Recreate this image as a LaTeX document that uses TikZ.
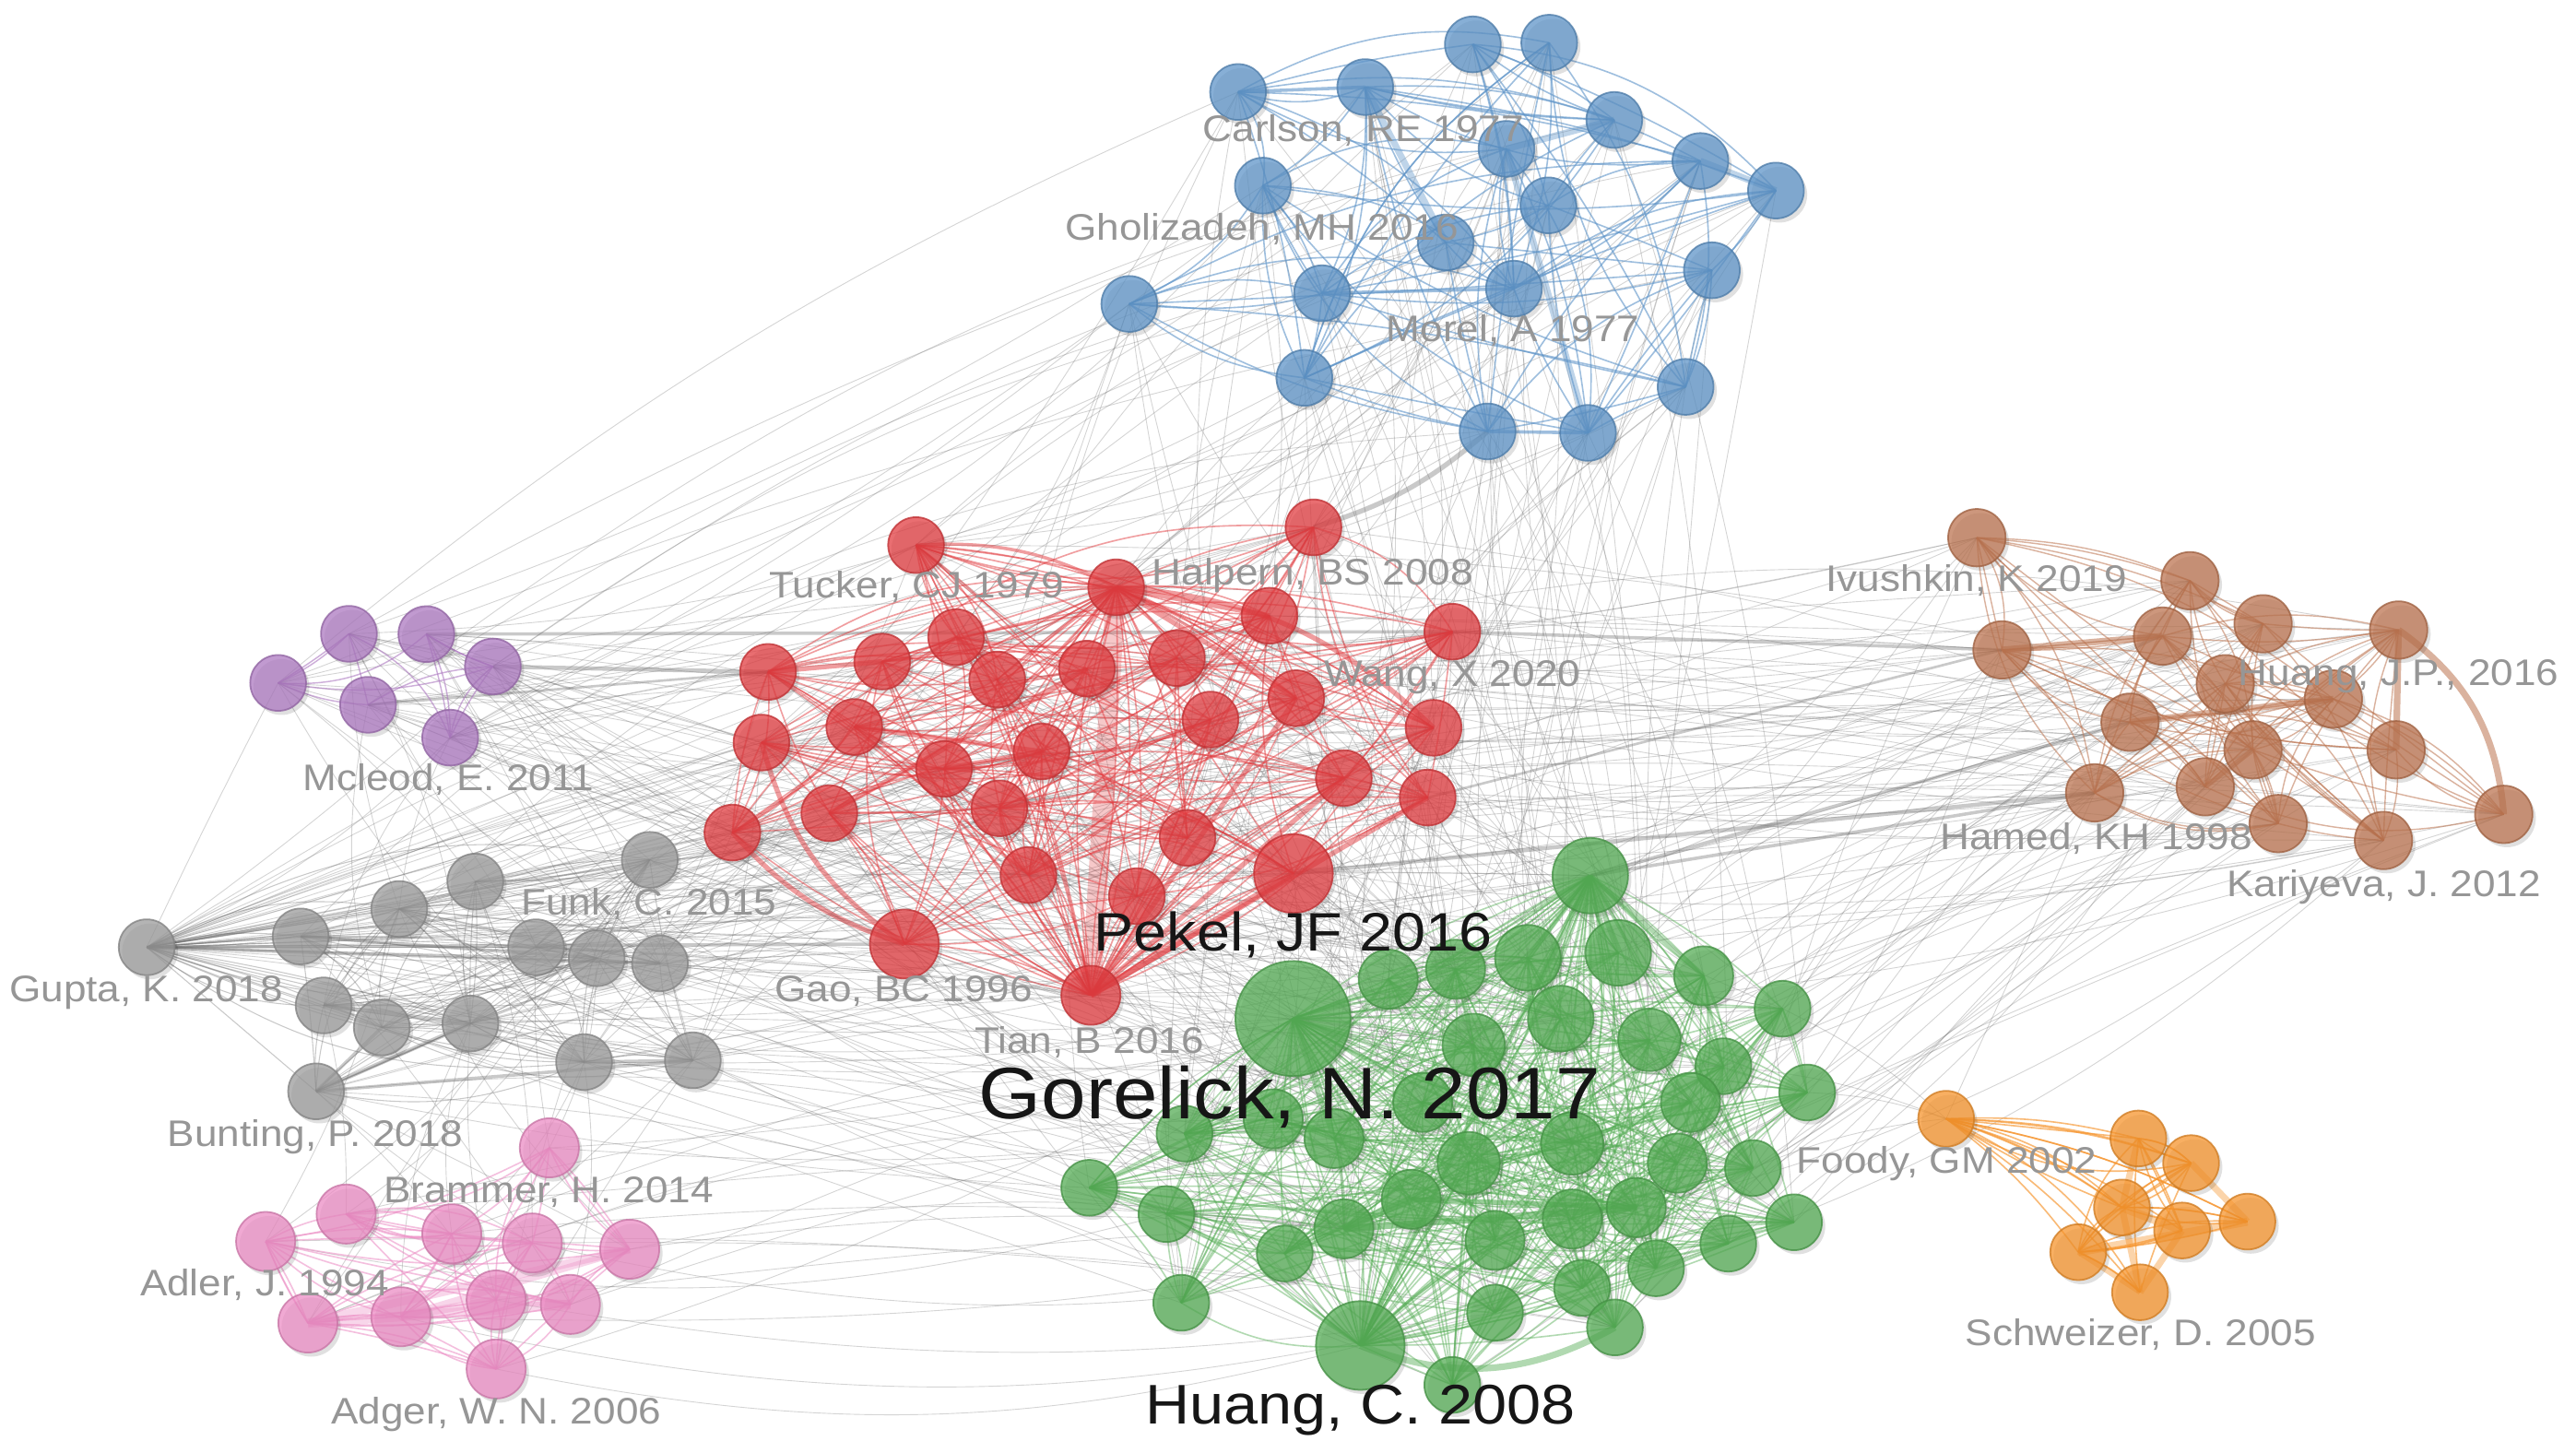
\documentclass[tikz,border=0pt]{standalone}
\usepackage{fontspec}
\newfontfamily\lblfont[FakeStretch=1.1]{Liberation Sans}
\usetikzlibrary{shadows,backgrounds}
\definecolor{cblue}{RGB}{94,148,200}
\definecolor{cred}{RGB}{226,60,64}
\definecolor{cpurple}{RGB}{172,120,192}
\definecolor{cgray}{RGB}{155,155,155}
\definecolor{cpink}{RGB}{236,140,196}
\definecolor{cgreen}{RGB}{84,172,84}
\definecolor{cbrown}{RGB}{188,116,80}
\definecolor{corange}{RGB}{246,148,44}
\definecolor{lgray}{RGB}{150,150,150}
\definecolor{ldark}{RGB}{22,22,22}
\newcommand\inedges[4]{%
 \foreach \i in {1,...,#2}{\foreach \k in {1,...,#3}{%
   \pgfmathtruncatemacro\j{random(1,#2)}\pgfmathtruncatemacro\bd{random(-22,22)}%
   \ifnum\i=\j\relax\else\draw[#4, bend left=\bd] (#1\i.center) to (#1\j.center);\fi}}}
\newcommand\crossedges[6]{%
 \foreach \i in {1,...,#2}{\foreach \k in {1,...,#5}{%
   \pgfmathtruncatemacro\j{random(1,#4)}\pgfmathtruncatemacro\bd{random(-14,14)}%
   \draw[#6, bend left=\bd] (#1\i.center) to (#3\j.center);}}}
\tikzset{
 nd/.style={circle, inner sep=0pt, minimum size=17pt, line width=0.5pt, fill opacity=0.74, draw opacity=0.8,
   drop shadow={shadow xshift=1pt, shadow yshift=-1.25pt, opacity=0.12, fill=black}},
 bnode/.style={nd, fill=cblue, draw=cblue!85!black},
 rnode/.style={nd, fill=cred, draw=cred!85!black},
 pnode/.style={nd, fill=cpurple, draw=cpurple!85!black},
 gnode/.style={nd, fill=cgray, draw=cgray!85!black},
 knode/.style={nd, fill=cpink, draw=cpink!85!black, minimum size=18pt},
 nnode/.style={nd, fill=cgreen, draw=cgreen!85!black},
 wnode/.style={nd, fill=cbrown, draw=cbrown!85!black, minimum size=17.5pt},
 onode/.style={nd, fill=corange, draw=corange!85!black},
 eblue/.style={draw=cblue, line width=0.45pt, draw opacity=0.6},
 ered/.style={draw=cred, line width=0.45pt, draw opacity=0.5},
 egreen/.style={draw=cgreen, line width=0.45pt, draw opacity=0.45},
 ebrown/.style={draw=cbrown, line width=0.4pt, draw opacity=0.55},
 epink/.style={draw=cpink, line width=0.45pt, draw opacity=0.55},
 eorange/.style={draw=corange, line width=0.45pt, draw opacity=0.65},
 epurple/.style={draw=cpurple, line width=0.4pt, draw opacity=0.6},
 egray/.style={draw=black!55, line width=0.25pt, draw opacity=0.3},
 egraydk/.style={draw=black!60, line width=0.3pt, draw opacity=0.35},
 lab/.style={font=\lblfont\fontsize{11.25}{12}\selectfont, text=lgray, inner sep=0pt, anchor=base},
 biglab/.style={font=\lblfont\fontsize{#1}{#1}\selectfont, text=ldark, inner sep=0pt, anchor=base},
}
\begin{document}
\begin{tikzpicture}[x=0.5pt,y=-0.5pt]
\useasboundingbox (0,0) rectangle (1568,884);
% ---------- blue ----------
\node[bnode] (b1) at (753.6,56) {};
\node[bnode] (b2) at (831,53) {};
\node[bnode] (b3) at (896.5,27) {};
\node[bnode] (b4) at (943,26) {};
\node[bnode] (b5) at (982.6,73) {};
\node[bnode] (b6) at (917,90.6) {};
\node[bnode] (b7) at (768.7,113) {};
\node[bnode] (b8) at (1035,98) {};
\node[bnode] (b9) at (1081,116) {};
\node[bnode] (b10) at (942.5,125) {};
\node[bnode] (b11) at (880,147.6) {};
\node[bnode] (b12) at (687.4,185) {};
\node[bnode] (b13) at (804.7,178.5) {};
\node[bnode] (b14) at (921.5,175.7) {};
\node[bnode] (b15) at (1042,164.5) {};
\node[bnode] (b16) at (794,230) {};
\node[bnode] (b17) at (905.5,262.6) {};
\node[bnode] (b18) at (966.6,263.5) {};
\node[bnode] (b19) at (1026,235.5) {};
% ---------- red ----------
\node[rnode] (r1) at (557.6,331.8) {};
\node[rnode] (r2) at (799.5,321) {};
\node[rnode] (r3) at (679.4,357.5) {};
\node[rnode] (r4) at (772.7,374.8) {};
\node[rnode] (r5) at (884,384.5) {};
\node[rnode] (r6) at (582,387.8) {};
\node[rnode] (r7) at (467.5,409) {};
\node[rnode] (r8) at (537,402.7) {};
\node[rnode] (r9) at (607,413.6) {};
\node[rnode] (r10) at (661.6,407) {};
\node[rnode] (r11) at (716.4,400.6) {};
\node[rnode] (r12) at (789,425) {};
\node[rnode] (r13) at (736.8,438) {};
\node[rnode] (r14) at (872.6,443) {};
\node[rnode] (r15) at (463.5,452) {};
\node[rnode] (r16) at (520,442.5) {};
\node[rnode] (r17) at (634,457.4) {};
\node[rnode] (r18) at (574.6,468) {};
\node[rnode] (r19) at (818,473.6) {};
\node[rnode] (r20) at (869,485.5) {};
\node[rnode] (r21) at (445.8,506.8) {};
\node[rnode] (r22) at (504.8,495) {};
\node[rnode] (r23) at (608.3,492) {};
\node[rnode] (r24) at (722.8,510) {};
\node[rnode] (r25) at (626,532.6) {};
\node[rnode] (r26) at (692,545.5) {};
\node[rnode, minimum size=24pt] (r27) at (787.3,531.7) {};
\node[rnode, minimum size=21pt] (r28) at (550.5,574.6) {};
\node[rnode, minimum size=18pt] (r29) at (664,605.8) {};
% ---------- purple ----------
\node[pnode] (p1) at (212.4,385.8) {};
\node[pnode] (p2) at (259.5,386) {};
\node[pnode] (p3) at (300,405.7) {};
\node[pnode] (p4) at (169.3,415.7) {};
\node[pnode] (p5) at (224,429) {};
\node[pnode] (p6) at (274,449) {};
% ---------- gray ----------
\node[gnode] (g1) at (395.5,523.4) {};
\node[gnode] (g2) at (289.3,536.6) {};
\node[gnode] (g3) at (243,553.3) {};
\node[gnode] (g4) at (183,570) {};
\node[gnode] (g5) at (89.3,576.6) {};
\node[gnode] (g6) at (326.3,576.6) {};
\node[gnode] (g7) at (363.2,583.3) {};
\node[gnode] (g8) at (401.7,586.4) {};
\node[gnode] (g9) at (197,612) {};
\node[gnode] (g10) at (232.4,625.4) {};
\node[gnode] (g11) at (286.3,623) {};
\node[gnode] (g12) at (355.5,646.5) {};
\node[gnode] (g13) at (421.7,645.4) {};
\node[gnode] (g14) at (192.4,664.3) {};
% ---------- pink ----------
\node[knode] (k1) at (334.4,698.7) {};
\node[knode] (k2) at (210.7,739) {};
\node[knode] (k3) at (161.7,755.7) {};
\node[knode] (k4) at (275,751) {};
\node[knode] (k5) at (324,756.6) {};
\node[knode] (k6) at (383.3,760.4) {};
\node[knode] (k7) at (187.4,805.3) {};
\node[knode] (k8) at (244,801.5) {};
\node[knode] (k9) at (302,791.3) {};
\node[knode] (k10) at (347.2,794) {};
\node[knode] (k11) at (302,833.3) {};
% ---------- green ----------
\node[nnode, minimum size=23pt] (n1) at (968,533) {};
\node[nnode, minimum size=20pt] (n2) at (985,580) {};
\node[nnode, minimum size=20pt] (n3) at (930,583) {};
\node[nnode, minimum size=18pt] (n4) at (1037,594) {};
\node[nnode] (n5) at (1085,614) {};
\node[nnode, minimum size=18pt] (n6) at (886,590) {};
\node[nnode, minimum size=18pt] (n7) at (845,596) {};
\node[nnode, minimum size=35pt] (n8) at (787,620) {};
\node[nnode, minimum size=20pt] (n9) at (950,620) {};
\node[nnode, minimum size=19pt] (n10) at (897,636) {};
\node[nnode, minimum size=19pt] (n11) at (1004,633) {};
\node[nnode] (n12) at (1049,649) {};
\node[nnode] (n13) at (1100,665) {};
\node[nnode, minimum size=18pt] (n14) at (1029,671) {};
\node[nnode, minimum size=18pt] (n15) at (866,671) {};
\node[nnode, minimum size=18pt] (n16) at (775,681) {};
\node[nnode, minimum size=18pt] (n17) at (812,693) {};
\node[nnode] (n18) at (721,690) {};
\node[nnode, minimum size=19pt] (n19) at (957,696) {};
\node[nnode, minimum size=19pt] (n20) at (894,708) {};
\node[nnode, minimum size=18pt] (n21) at (1021,708) {};
\node[nnode] (n22) at (1067,711) {};
\node[nnode] (n23) at (663,723) {};
\node[nnode, minimum size=18pt] (n24) at (859,730) {};
\node[nnode, minimum size=18pt] (n25) at (957,742) {};
\node[nnode, minimum size=18pt] (n26) at (996,735) {};
\node[nnode] (n27) at (710,739) {};
\node[nnode, minimum size=18pt] (n28) at (818,748) {};
\node[nnode] (n29) at (1092,744) {};
\node[nnode] (n30) at (1052,757) {};
\node[nnode] (n31) at (782,763) {};
\node[nnode, minimum size=18pt] (n32) at (910,755) {};
\node[nnode] (n33) at (1008,772) {};
\node[nnode] (n34) at (963,784) {};
\node[nnode] (n35) at (719,793) {};
\node[nnode] (n36) at (910,799) {};
\node[nnode] (n37) at (983,808) {};
\node[nnode, minimum size=27pt] (n38) at (828,819) {};
\node[nnode] (n39) at (884,843) {};
% ---------- brown ----------
\node[wnode] (w1) at (1203.3,327.3) {};
\node[wnode] (w2) at (1333,353.5) {};
\node[wnode] (w3) at (1218.6,395.6) {};
\node[wnode] (w4) at (1316.3,387.2) {};
\node[wnode] (w5) at (1377.5,379.7) {};
\node[wnode] (w6) at (1460,383.5) {};
\node[wnode] (w7) at (1354.5,416.2) {};
\node[wnode] (w8) at (1420.3,425.5) {};
\node[wnode] (w9) at (1296.5,439.6) {};
\node[wnode] (w10) at (1371.4,456.4) {};
\node[wnode] (w11) at (1458.5,456.4) {};
\node[wnode] (w12) at (1275,482.6) {};
\node[wnode] (w13) at (1342.3,478.9) {};
\node[wnode] (w14) at (1386.7,501.3) {};
\node[wnode] (w15) at (1450.8,511.6) {};
\node[wnode] (w16) at (1524,495.7) {};
% ---------- orange ----------
\node[onode] (o1) at (1184.6,681) {};
\node[onode] (o2) at (1301.6,693) {};
\node[onode] (o3) at (1333.7,708) {};
\node[onode] (o4) at (1291.6,735) {};
\node[onode] (o5) at (1328.2,749) {};
\node[onode] (o6) at (1368,743.6) {};
\node[onode] (o7) at (1265,762.2) {};
\node[onode] (o8) at (1302.6,786.6) {};
% ---------- edges ----------
\begin{pgfonlayer}{background}
\fill[white] (0,0) rectangle (1568,884);
\pgfmathsetseed{17}
% gray inter-cluster
\crossedges{g}{14}{r}{29}{5}{egray}
\crossedges{g}{14}{n}{39}{3}{egray}
\crossedges{p}{6}{r}{29}{5}{egray}
\crossedges{p}{6}{g}{14}{3}{egray}
\crossedges{p}{6}{n}{39}{2}{egray}
\crossedges{b}{19}{r}{29}{2}{egray}
\crossedges{b}{19}{n}{39}{3}{egray}
\crossedges{b}{19}{p}{6}{1}{egray}
\crossedges{w}{16}{r}{29}{3}{egray}
\crossedges{w}{16}{n}{39}{3}{egray}
\crossedges{w}{16}{g}{14}{1}{egray}
\crossedges{k}{11}{n}{39}{2}{egray}
\crossedges{k}{11}{g}{14}{2}{egray}
\crossedges{r}{29}{n}{39}{4}{egray}
\foreach \j in {1,...,29} {\pgfmathtruncatemacro\bd{random(-10,10)}\draw[egray, bend left=\bd] (g5.center) to (r\j.center);}
\foreach \j in {1,...,4,6,7,...,14} {\draw[egraydk] (g5.center) to (g\j.center);}
\inedges{g}{14}{6}{egraydk}
\foreach \j in {5,13,22,29,12} {\draw[egray, bend right=8] (o1.center) to (n\j.center);}
\draw[egray] (o1.center) to (w12.center);
% thick gray
\draw[egraydk, line width=1pt] (p2.center) -- (r5.center);
\draw[egraydk, line width=1pt] (r5.center) -- (w3.center);
\draw[egraydk, line width=1.25pt] (p3.center) -- (r7.center);
\draw[egraydk, line width=0.75pt] (p5.center) -- (r7.center);
\draw[egraydk, line width=1.25pt] (r27.center) -- (w12.center);
\draw[egraydk, line width=1pt] (n1.center) -- (w9.center);
\draw[egraydk, line width=1pt] (n1.center) -- (w12.center);
\draw[egraydk, line width=0.75pt] (r20.center) -- (w3.center);
\draw[egraydk, line width=1.5pt, bend right=12] (r2.center) to (b17.center);
\draw[egraydk, line width=1pt] (g5.center) -- (g8.center);
\draw[egraydk, line width=1pt] (g5.center) -- (r28.center);
\draw[egraydk, line width=1.25pt] (g9.center) -- (g11.center);
\draw[egraydk, line width=1.25pt] (g14.center) -- (g11.center);
\draw[egraydk, line width=1pt] (g14.center) -- (g13.center);
\draw[egraydk, line width=1pt] (g12.center) -- (g13.center);
\draw[egraydk, line width=1pt] (g4.center) -- (g7.center);
\draw[egraydk, line width=1pt] (g14.center) -- (g10.center);
% blue
\inedges{b}{19}{5}{eblue}
\draw[eblue, line width=2pt, draw opacity=0.4] (b6.center) -- (b18.center);
\draw[eblue, line width=2pt, draw opacity=0.4] (b2.center) -- (b11.center);
\draw[eblue, line width=2pt, draw opacity=0.4] (b6.center) -- (b5.center);
\draw[eblue, line width=2pt, draw opacity=0.4] (b8.center) -- (b9.center);
\draw[eblue, line width=1pt] (b1.center) -- (b2.center);
\draw[eblue, line width=1pt] (b13.center) -- (b14.center);
\draw[eblue, line width=1pt] (b17.center) -- (b18.center);
% red
\inedges{r}{29}{6}{ered}
\foreach \j in {1,2,4,5,...,29} {\pgfmathtruncatemacro\bd{random(-18,18)}\draw[ered, bend left=\bd] (r3.center) to (r\j.center);}
\foreach \j in {1,...,28} {\pgfmathtruncatemacro\bd{random(-18,18)}\draw[ered, bend left=\bd] (r29.center) to (r\j.center);}
\draw[ered, line width=6pt, draw opacity=0.28] (r3.center) -- (r29.center);
\draw[ered, line width=1.5pt] (r3.center) -- (r12.center);
\draw[ered, line width=1.5pt, bend left=20] (r3.center) to (r14.center);
\draw[ered, line width=2pt] (r29.center) -- (r27.center);
\draw[ered, line width=1.5pt] (r29.center) -- (r19.center);
\draw[ered, line width=1.5pt] (r29.center) -- (r20.center);
\draw[ered, line width=1.5pt] (r29.center) -- (r12.center);
\draw[ered, line width=1.5pt, bend right=20] (r15.center) to (r28.center);
\draw[ered, line width=1.5pt, bend right=15] (r21.center) to (r28.center);
\draw[ered, line width=1.5pt] (r22.center) -- (r10.center);
\draw[ered, line width=1.5pt] (r18.center) -- (r17.center);
\draw[ered, line width=1.5pt] (r7.center) -- (r8.center);
\draw[ered, line width=1.5pt] (r16.center) -- (r17.center);
\draw[ered, line width=1.5pt] (r3.center) -- (r4.center);
\draw[ered, line width=1pt, bend left=15] (r1.center) to (r3.center);
% purple
\inedges{p}{6}{3}{epurple}
% pink
\inedges{k}{11}{6}{epink}
\draw[epink, line width=3pt, draw opacity=0.35] (k7.center) -- (k10.center);
\draw[epink, line width=2.5pt, draw opacity=0.35] (k7.center) -- (k6.center);
\draw[epink, line width=2.5pt, draw opacity=0.35] (k8.center) -- (k9.center);
\draw[epink, line width=2.5pt, draw opacity=0.35] (k9.center) -- (k10.center);
\draw[epink, line width=2pt, draw opacity=0.35] (k8.center) -- (k6.center);
% green
\inedges{n}{39}{8}{egreen}
\foreach \j in {1,...,37,39} {\pgfmathtruncatemacro\bd{random(-20,20)}\draw[egreen, bend left=\bd] (n38.center) to (n\j.center);}
\foreach \j in {1,...,7,9,10,...,39} {\pgfmathtruncatemacro\bd{random(-20,20)}\draw[egreen, bend left=\bd] (n8.center) to (n\j.center);}
\foreach \j in {2,...,39} {\pgfmathtruncatemacro\bd{random(-20,20)}\draw[egreen, bend left=\bd] (n1.center) to (n\j.center);}
\draw[egreen, line width=2pt, bend right=25] (n38.center) to (n37.center);
\draw[egreen, line width=1.5pt] (n38.center) -- (n1.center);
\draw[egreen, line width=2pt, draw opacity=0.6] (n28.center) -- (n26.center);
\draw[egreen, line width=2pt, draw opacity=0.6] (n28.center) -- (n24.center);
\draw[egreen, line width=1.5pt, draw opacity=0.6] (n24.center) -- (n26.center);
\draw[egreen, line width=1.5pt] (n1.center) -- (n3.center);
\draw[egreen, line width=1.5pt] (n1.center) -- (n2.center);
\draw[egreen, line width=1.5pt] (n1.center) -- (n4.center);
\draw[egreen, line width=1.5pt] (n8.center) -- (n17.center);
% brown
\inedges{w}{16}{6}{ebrown}
\draw[ebrown, line width=2pt, bend left=25] (w6.center) to (w16.center);
\draw[ebrown, line width=2pt] (w6.center) -- (w11.center);
\draw[ebrown, line width=2pt] (w3.center) -- (w4.center);
\draw[ebrown, line width=2pt] (w9.center) -- (w8.center);
\draw[ebrown, line width=1.5pt] (w13.center) -- (w10.center);
\draw[ebrown, bend left=10] (w1.center) to (w2.center);
\draw[ebrown] (w1.center) -- (w3.center);
% orange
\inedges{o}{8}{5}{eorange}
\foreach \j in {2,...,8} {\draw[eorange, bend left=8] (o1.center) to (o\j.center);}
\draw[eorange, line width=2.5pt, draw opacity=0.4] (o7.center) -- (o6.center);
\draw[eorange, line width=2.5pt, draw opacity=0.4] (o4.center) -- (o5.center);
\draw[eorange, line width=2pt, draw opacity=0.4] (o2.center) -- (o4.center);
\draw[eorange, line width=2pt, draw opacity=0.4] (o3.center) -- (o6.center);
\draw[eorange, line width=2pt, draw opacity=0.4] (o8.center) -- (o5.center);
\draw[eorange, line width=2pt, draw opacity=0.4] (o8.center) -- (o4.center);
\draw[eorange, line width=1.5pt, draw opacity=0.4] (o7.center) -- (o8.center);
\end{pgfonlayer}
% ---------- labels ----------
\node[lab] (lcarlson) at (830,86) {Carlson, RE 1977};
\node[lab] (lgholi) at (768,146) {Gholizadeh, MH 2016};
\node[lab] (lmorel) at (921,208) {Morel, A 1977};
\node[lab] (ltucker) at (558,364) {Tucker, CJ 1979};
\node[lab] (lhalpern) at (799,356) {Halpern, BS 2008};
\node[lab] (lwang) at (884,418) {Wang, X 2020};
\node[lab] (lmcleod) at (273,481) {Mcleod, E. 2011};
\node[lab] (lfunk) at (395,557) {Funk, C. 2015};
\node[lab] (lgupta) at (89,610) {Gupta, K. 2018};
\node[lab] (lgao) at (550,610) {Gao, BC 1996};
\node[lab] (ltian) at (663,641) {Tian, B 2016};
\node[lab] (lbunting) at (192,698) {Bunting, P. 2018};
\node[lab] (lbrammer) at (334,732) {Brammer, H. 2014};
\node[lab] (ladler) at (161,789) {Adler, J. 1994};
\node[lab] (ladger) at (302,867) {Adger, W. N. 2006};
\node[lab] (livushkin) at (1203,360) {Ivushkin, K 2019};
\node[lab] (lhuangjp) at (1460,417) {Huang, J.P., 2016};
\node[lab] (lhamed) at (1276,517) {Hamed, KH 1998};
\node[lab] (lkariyeva) at (1451,546) {Kariyeva, J. 2012};
\node[lab] (lfoody) at (1185,714) {Foody, GM 2002};
\node[lab] (lschweizer) at (1303,819) {Schweizer, D. 2005};
\node[biglab=16.5] (lpekel) at (787,579) {Pekel, JF 2016};
\node[biglab=22.25] (lgorelick) at (785,681) {Gorelick, N. 2017};
\node[biglab=17] (lhuangc) at (828,867) {Huang, C. 2008};
\end{tikzpicture}
\end{document}
